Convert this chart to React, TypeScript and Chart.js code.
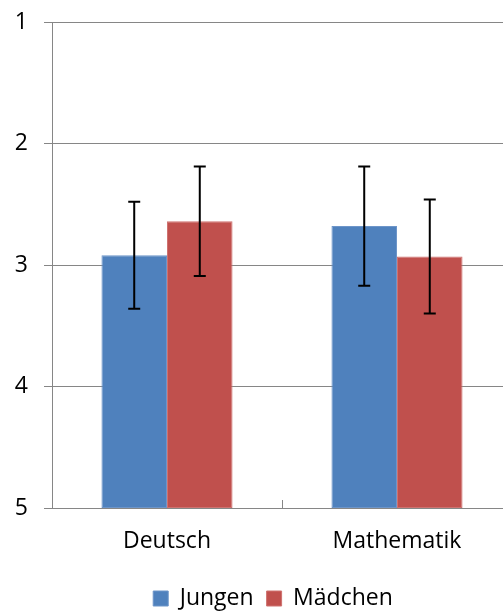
import React, { useEffect, useRef } from "react";
import { Chart, registerables } from "chart.js";

Chart.register(...registerables);

const categories = ["Deutsch", "Mathematik"];
const seriesNames = ["Jungen", "Mädchen"];
const jungen = [2.92, 2.68];
const maedchen = [2.64, 2.93];
const jungenErr = [0.44, 0.49];
const maedchenErr = [0.45, 0.47];
const yTicks = [1, 2, 3, 4, 5];

const FONT = "'Open Sans', 'DejaVu Sans', sans-serif";
const GRID = "#868686";

const errorBarPlugin = {
  id: "errorBars",
  afterDatasetsDraw(chart: any) {
    const ctx = chart.ctx;
    const yScale = chart.scales.y;
    const errs = [jungenErr, maedchenErr];
    const vals = [jungen, maedchen];
    ctx.save();
    ctx.strokeStyle = "#000";
    ctx.lineWidth = 2;
    chart.data.datasets.forEach((ds: any, di: number) => {
      const meta = chart.getDatasetMeta(di);
      meta.data.forEach((bar: any, i: number) => {
        const v = vals[di][i];
        const e = errs[di][i];
        const yTop = yScale.getPixelForValue(v - e);
        const yBot = yScale.getPixelForValue(v + e);
        const x = bar.x;
        ctx.beginPath();
        ctx.moveTo(x, yTop);
        ctx.lineTo(x, yBot);
        ctx.moveTo(x - 6, yTop);
        ctx.lineTo(x + 6, yTop);
        ctx.moveTo(x - 6, yBot);
        ctx.lineTo(x + 6, yBot);
        ctx.stroke();
      });
    });
    // inner tick marks between categories on the x axis
    const xScale = chart.scales.x;
    const bottom = chart.chartArea.bottom;
    ctx.strokeStyle = GRID;
    ctx.lineWidth = 1;
    for (let i = 0; i < categories.length - 1; i++) {
      const xm = Math.round((xScale.getPixelForTick(i) + xScale.getPixelForTick(i + 1)) / 2) + 0.5;
      ctx.beginPath();
      ctx.moveTo(xm, bottom - 8);
      ctx.lineTo(xm, bottom);
      ctx.stroke();
    }
    ctx.restore();
  },
};

export default function App() {
  const ref = useRef<HTMLCanvasElement | null>(null);
  useEffect(() => {
    if (!ref.current) return;
    const chart = new Chart(ref.current, {
      type: "bar",
      data: {
        labels: categories,
        datasets: [
          {
            label: seriesNames[0],
            data: jungen.map((v) => [5, v]) as any,
            backgroundColor: "#4F81BD",
            borderColor: "#6d95c9",
            borderWidth: 1,
            borderSkipped: false,
            categoryPercentage: 0.57,
            barPercentage: 1.0,
          },
          {
            label: seriesNames[1],
            data: maedchen.map((v) => [5, v]) as any,
            backgroundColor: "#C0504D",
            borderColor: "#cf7270",
            borderWidth: 1,
            borderSkipped: false,
            categoryPercentage: 0.57,
            barPercentage: 1.0,
          },
        ],
      },
      options: {
        responsive: false,
        animation: false,
        layout: { padding: { top: 22, left: 0, right: 0, bottom: 0 } },
        plugins: {
          tooltip: { enabled: false },
          legend: {
            position: "bottom",
            labels: {
              boxWidth: 15,
              boxHeight: 15,
              padding: 13,
              color: "#000",
              font: { family: FONT, size: 23 },
            },
          },
        },
        scales: {
          x: {
            grid: { display: false, drawTicks: false },
            border: { display: true, color: GRID, width: 1 },
            ticks: {
              color: "#000",
              padding: 19.2,
              font: { family: FONT, size: 23 },
            },
          },
          y: {
            reverse: true,
            min: 1,
            max: 5,
            afterBuildTicks: (s: any) => {
              s.ticks = yTicks.map((v) => ({ value: v }));
            },
            afterFit: (s: any) => {
              s.width = 52;
            },
            grid: { color: GRID, lineWidth: 1, tickLength: 8, drawTicks: true },
            border: { display: true, color: GRID, width: 1 },
            ticks: {
              color: "#000",
              padding: 16,
              font: { family: FONT, size: 23, lineHeight: 0.3 },
            },
          },
          y2: {
            position: "right",
            display: true,
            grid: { display: false, drawTicks: false },
            border: { display: false },
            ticks: { display: false },
            afterFit: (s: any) => {
              s.width = 34;
            },
          },
        },
      },
      plugins: [errorBarPlugin],
    });
    return () => chart.destroy();
  }, []);

  return (
    <div
      style={{
        position: "fixed",
        left: 0,
        top: 0,
        width: 503,
        height: 612,
        overflow: "hidden",
        background: "#fff",
      }}
    >
      <canvas ref={ref} width={546} height={620} style={{ display: "block" }} />
    </div>
  );
}
